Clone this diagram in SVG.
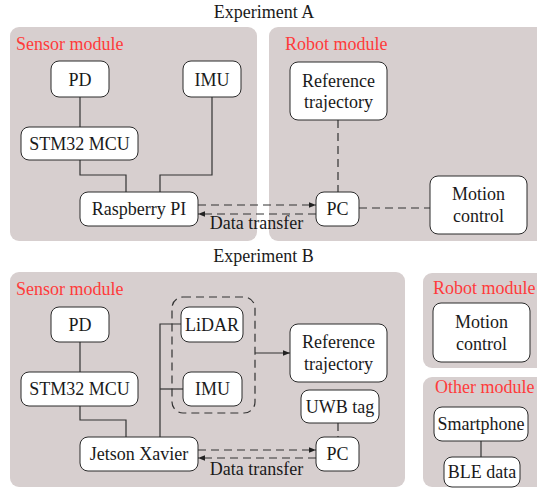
<svg xmlns="http://www.w3.org/2000/svg" width="537" height="488" viewBox="0 0 537 488">
<defs>
<style>
.panel{fill:#d7cfcf;stroke:none}
.node rect{fill:#ffffff;stroke:#2a2a2a;stroke-width:1}
text{font-family:"Times New Roman","Liberation Serif","DejaVu Serif",serif;font-size:18px;fill:#1a1a1a}
.node text{text-anchor:middle}
.title{text-anchor:middle}
.lbl{fill:#ff3b3b}
.ln{fill:none;stroke:#333333;stroke-width:1.2}
.dash{fill:none;stroke:#333333;stroke-width:1.2;stroke-dasharray:8,5}
</style>
<marker id="ah" viewBox="0 0 10 10" refX="10" refY="5" markerWidth="7" markerHeight="7" orient="auto" markerUnits="userSpaceOnUse">
<path d="M0,1 L10,5 L0,9 Z" fill="#222222"/>
</marker>
</defs>
<rect width="537" height="488" fill="#ffffff"/>

<!-- Panels -->
<g id="panels">
<rect class="panel" x="10" y="27" width="247" height="214" rx="9"/>
<rect class="panel" x="269" y="27" width="280" height="214" rx="9"/>
<rect class="panel" x="10" y="272" width="395" height="215" rx="9"/>
<rect class="panel" x="423" y="273" width="130" height="95" rx="9"/>
<rect class="panel" x="423" y="377" width="130" height="110" rx="9"/>
</g>

<g id="labels">
<text class="title" x="264" y="18">Experiment A</text>
<text class="title" x="263.5" y="262">Experiment B</text>
<text class="lbl" x="16" y="50">Sensor module</text>
<text class="lbl" x="285" y="50">Robot module</text>
<text class="lbl" x="16" y="295">Sensor module</text>
<text class="lbl" x="433" y="294">Robot module</text>
<text class="lbl" x="435" y="393">Other module</text>
<text x="256.5" y="229" text-anchor="middle">Data transfer</text>
<text x="256.5" y="475" text-anchor="middle">Data transfer</text>
</g>

<!-- Connectors -->
<g id="connectors">
<!-- Experiment A -->
<path class="ln" d="M80,97 V127"/>
<path class="ln" d="M80,160 V175 H126 V192"/>
<path class="ln" d="M212,97 V175 H160 V192"/>
<path class="dash" d="M338,120 V192"/>
<path class="dash" d="M359,208 H430"/>
<path class="dash" d="M198,205 H316" marker-end="url(#ah)"/>
<path class="dash" d="M316,214 H198" marker-end="url(#ah)"/>
<!-- Experiment B -->
<path class="ln" d="M80,342 V372"/>
<path class="ln" d="M80,406 V420 H126 V437"/>
<path class="ln" d="M160,437 V324 H181"/>
<path class="ln" d="M160,389 H183"/>
<path class="ln" d="M255,353 H290" marker-end="url(#ah)"/>
<path class="dash" d="M338,423 V437"/>
<path class="dash" d="M198,450 H316" marker-end="url(#ah)"/>
<path class="dash" d="M316,458 H198" marker-end="url(#ah)"/>
<path class="ln" d="M481,441 V457"/>
<rect class="dash" x="172" y="297" width="83" height="116" rx="11"/>
</g>

<!-- Experiment A nodes -->
<g id="a-pd" class="node"><rect x="51" y="61" width="58" height="36" rx="8"/><text x="80" y="86">PD</text></g>
<g id="a-imu" class="node"><rect x="183" y="61" width="58" height="36" rx="8"/><text x="212" y="86">IMU</text></g>
<g id="a-stm32" class="node"><rect x="21" y="127" width="117" height="33" rx="8"/><text x="79.5" y="150">STM32 MCU</text></g>
<g id="a-rpi" class="node"><rect x="80" y="192" width="118" height="34" rx="8"/><text x="139" y="215">Raspberry PI</text></g>
<g id="a-ref" class="node"><rect x="290" y="62" width="97" height="58" rx="8"/><text x="338.5" y="87">Reference</text><text x="338.5" y="108">trajectory</text></g>
<g id="a-pc" class="node"><rect x="316" y="192" width="43" height="34" rx="8"/><text x="337.5" y="215">PC</text></g>
<g id="a-motion" class="node"><rect x="430" y="176" width="97" height="58" rx="8"/><text x="478.5" y="200">Motion</text><text x="478.5" y="222">control</text></g>

<!-- Experiment B nodes -->
<g id="b-pd" class="node"><rect x="51" y="307" width="58" height="35" rx="8"/><text x="80" y="331">PD</text></g>
<g id="b-stm32" class="node"><rect x="21" y="372" width="117" height="34" rx="8"/><text x="79.5" y="395">STM32 MCU</text></g>
<g id="b-jetson" class="node"><rect x="80" y="437" width="118" height="34" rx="8"/><text x="139" y="460">Jetson Xavier</text></g>
<g id="b-lidar" class="node"><rect x="181" y="307" width="62" height="35" rx="8"/><text x="212" y="331">LiDAR</text></g>
<g id="b-imu" class="node"><rect x="183" y="372" width="59" height="34" rx="8"/><text x="212.5" y="395">IMU</text></g>
<g id="b-ref" class="node"><rect x="290" y="324" width="97" height="58" rx="8"/><text x="338.5" y="348">Reference</text><text x="338.5" y="370">trajectory</text></g>
<g id="b-uwb" class="node"><rect x="301" y="390" width="78" height="33" rx="8"/><text x="340" y="413">UWB tag</text></g>
<g id="b-pc" class="node"><rect x="316" y="437" width="43" height="34" rx="8"/><text x="337.5" y="460">PC</text></g>
<g id="b-motion" class="node"><rect x="433" y="303" width="97" height="59" rx="8"/><text x="481.5" y="328">Motion</text><text x="481.5" y="350">control</text></g>
<g id="b-smart" class="node"><rect x="434" y="407" width="94" height="34" rx="8"/><text x="481" y="430">Smartphone</text></g>
<g id="b-ble" class="node"><rect x="444" y="457" width="76" height="30" rx="8"/><text x="482" y="478">BLE data</text></g>
</svg>
